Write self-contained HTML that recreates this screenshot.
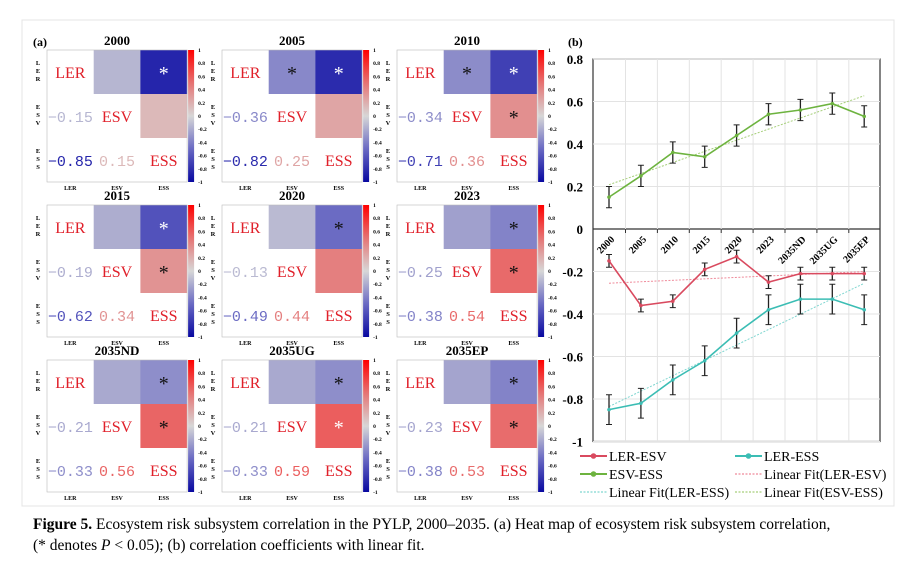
<!DOCTYPE html>
<html><head><meta charset="utf-8"><style>
html,body{margin:0;padding:0;background:#fff;}
svg{display:block;font-family:"Liberation Serif",serif;}
</style></head><body>
<svg id="fig" width="915" height="578" viewBox="0 0 915 578" xmlns="http://www.w3.org/2000/svg">
<rect x="22" y="20" width="872" height="486" fill="none" stroke="#e4e4e4"/>
<text x="33" y="46" font-size="12" font-weight="bold">(a)</text>
<text x="568" y="46" font-size="12" font-weight="bold">(b)</text>
<g id="heat"></g>
<g id="line"></g>
<text x="33" y="529" font-size="15.5"><tspan font-weight="bold">Figure 5.</tspan> Ecosystem risk subsystem correlation in the PYLP, 2000–2035. (a) Heat map of ecosystem risk subsystem correlation,</text>
<text x="33" y="550" font-size="15.5">(* denotes <tspan font-style="italic">P</tspan> &lt; 0.05); (b) correlation coefficients with linear fit.</text>
</svg>
<script>
const NS="http://www.w3.org/2000/svg";
function mk(tag,attrs,parent,txt){const e=document.createElementNS(NS,tag);for(const k in attrs)e.setAttribute(k,attrs[k]);if(txt!==undefined)e.textContent=txt;parent.appendChild(e);return e;}

// ---- heatmap data ----
const years=["2000","2005","2010","2015","2020","2023","2035ND","2035UG","2035EP"];
const lerEsv=[-0.15,-0.36,-0.34,-0.19,-0.13,-0.25,-0.21,-0.21,-0.23];
const lerEss=[-0.85,-0.82,-0.71,-0.62,-0.49,-0.38,-0.33,-0.33,-0.38];
const esvEss=[0.15,0.25,0.36,0.34,0.44,0.54,0.56,0.59,0.53];
const starLerEsv=[false,true,true,false,false,false,false,false,false];
const starLerEss=[true,true,true,true,true,true,true,true,true];
const starEsvEss=[false,false,true,true,false,true,true,true,true];
const vars=["LER","ESV","ESS"];

// ---- line chart data ----
const cats=["2000","2005","2010","2015","2020","2023","2035ND","2035UG","2035EP"];
const sLerEsv=[-0.15,-0.36,-0.34,-0.19,-0.13,-0.25,-0.21,-0.21,-0.21];
const sLerEss=[-0.85,-0.82,-0.71,-0.62,-0.49,-0.38,-0.33,-0.33,-0.38];
const sEsvEss=[0.15,0.25,0.36,0.34,0.44,0.54,0.56,0.59,0.53];
const eLerEsv=[0.03,0.03,0.03,0.03,0.03,0.03,0.03,0.03,0.03];
const eLerEss=[0.07,0.07,0.07,0.07,0.07,0.07,0.07,0.07,0.07];
const eEsvEss=[0.05,0.05,0.05,0.05,0.05,0.05,0.05,0.05,0.05];
const yTicks=[0.8,0.6,0.4,0.2,0,-0.2,-0.4,-0.6,-0.8,-1];
const yTickLabels=["0.8","0.6","0.4","0.2","0","-0.2","-0.4","-0.6","-0.8","-1"];
const cbTicks=[1,0.8,0.6,0.4,0.2,0,-0.2,-0.4,-0.6,-0.8,-1];

function cmap(v){
  const stops=[[-1,[8,8,160]],[-0.5,[105,105,195]],[0,[215,215,215]],[0.5,[230,115,115]],[1,[255,0,0]]];
  for(let i=0;i<stops.length-1;i++){const [a,ca]=stops[i],[b,cb]=stops[i+1];
    if(v<=b){const t=(v-a)/(b-a);return "rgb("+ca.map((c,j)=>Math.round(c+(cb[j]-c)*t)).join(",")+")";}}
  return "rgb(255,0,0)";
}
function fmt(v){return (v<0?"−":"")+Math.abs(v).toFixed(2).replace(/^0/,"0");}

const H=document.getElementById("heat");
const cw=46.7,ch=44;
let gid=0;
years.forEach((yr,i)=>{
  const col=i%3,row=Math.floor(i/3);
  const x0=47+col*175,y0=50+row*155;
  const g=mk("g",{},H);
  
  
  const t=mk("text",{x:x0+70,y:y0-5,"text-anchor":"middle","font-size":13,"font-weight":"bold"},g,yr);
  
  
  const M=[[1,lerEsv[i],lerEss[i]],[lerEsv[i],1,esvEss[i]],[lerEss[i],esvEss[i],1]];
  const S=[[false,starLerEsv[i],starLerEss[i]],[false,false,starEsvEss[i]],[false,false,false]];
  for(let r=0;r<3;r++)for(let c=0;c<3;c++){
    const cx=x0+c*cw,cy=y0+r*ch;
    const cell=mk("rect",{x:cx,y:cy,width:cw+0.3,height:ch+0.3,fill:c>r?cmap(M[r][c]):"#fff"},g);
    
    
    let txt=null;
    if(r===c){txt=mk("text",{x:cx+cw/2,y:cy+ch/2+6,"text-anchor":"middle","font-size":16,fill:"#e0202a"},g,vars[r]);}
    else if(c<r){txt=mk("text",{x:cx+cw/2,y:cy+ch/2+6,"text-anchor":"middle","font-size":15,fill:cmap(M[r][c]),"font-family":"Liberation Mono, monospace"},g,fmt(M[r][c]));}
    else if(S[r][c]){const dark=M[r][c]<-0.6||(M[r][c]>0.58);
      txt=mk("text",{x:cx+cw/2,y:cy+ch/2+8,"text-anchor":"middle","font-size":20,fill:dark?"#fff":"#111"},g,"*");}
    if(txt){}
  }
  mk("rect",{x:x0,y:y0,width:cw*3,height:ch*3,fill:"none",stroke:"#bbb","stroke-width":0.6},g);
  // row labels
  for(let r=0;r<3;r++){for(let k=0;k<3;k++){const l=mk("text",{x:x0-9,y:y0+r*ch+ch/2-7+k*8,"text-anchor":"middle","font-size":6.5,"font-weight":"bold"},g,vars[r][k]);
    }
    const cl=mk("text",{x:x0+r*cw+cw/2,y:y0+3*ch+8,"text-anchor":"middle","font-size":6,"font-weight":"bold"},g,vars[r]);
    }
  // colorbar
  const gid2="cb"+(gid++);
  const defs=mk("defs",{},g);const lg=mk("linearGradient",{id:gid2,x1:0,y1:0,x2:0,y2:1},defs);
  [1,0.5,0,-0.5,-1].forEach(v=>mk("stop",{offset:((1-v)/2*100)+"%","stop-color":cmap(v)},lg));
  const cb=mk("rect",{x:x0+3*cw+1,y:y0,width:6,height:ch*3,fill:"url(#"+gid2+")"},g);
  
  cbTicks.forEach(v=>{const ty=y0+(1-v)/2*ch*3;
    const tl=mk("text",{x:x0+3*cw+11,y:ty+2,"font-size":5.5,"font-weight":"bold"},g,String(v));
    });
});

// ---- line chart ----
const L=document.getElementById("line");
const px0=593,px1=880,pyTop=59;
const yS=v=>229-v*212.5;
const xS=i=>609+i*31.9;
mk("rect",{x:px0,y:pyTop,width:px1-px0,height:yS(-1)-pyTop,fill:"#fff",stroke:"#333","stroke-width":1.2},L);
yTicks.forEach((v,k)=>{
  mk("line",{x1:px0,x2:px1,y1:yS(v),y2:yS(v),stroke:v===0?"#333":"#e3e3e3","stroke-width":v===0?1.2:1},L);
  const t=mk("text",{x:px0-10,y:yS(v)+5,"text-anchor":"end","font-size":13,"font-weight":"bold"},L,yTickLabels[k]);
  
});
cats.forEach((c,i)=>{
  const gx=xS(i)+16.5;
  if(i<cats.length-1)mk("line",{x1:gx,x2:gx,y1:pyTop,y2:yS(-1),stroke:"#e3e3e3"},L);
  if(i<cats.length-1)mk("line",{x1:gx,x2:gx,y1:229,y2:233,stroke:"#333"},L);
  const t=mk("text",{x:xS(i)+6,y:240,"text-anchor":"end","font-size":10,"font-weight":"bold",transform:"rotate(-45 "+(xS(i)+6)+" 240)"},L,c);
  
});
function fit(vals){const n=vals.length;let sx=0,sy=0,sxy=0,sxx=0;vals.forEach((v,i)=>{sx+=i;sy+=v;sxy+=i*v;sxx+=i*i;});
  const b=(n*sxy-sx*sy)/(n*sxx-sx*sx);const a=(sy-b*sx)/n;return [a,a+b*(n-1)];}
function series(vals,errs,color,fitColor,name){
  const g=mk("g",{},L);
  
  
  const f=fit(vals);
  const fl=mk("line",{x1:xS(0),y1:yS(f[0]),x2:xS(vals.length-1),y2:yS(f[1]),stroke:fitColor,"stroke-width":1,"stroke-dasharray":"2,1.5"},g);
  
  vals.forEach((v,i)=>{const x=xS(i);
    mk("line",{x1:x,x2:x,y1:yS(v+errs[i]),y2:yS(v-errs[i]),stroke:"#222","stroke-width":1.3},g);
    mk("line",{x1:x-3,x2:x+3,y1:yS(v+errs[i]),y2:yS(v+errs[i]),stroke:"#222","stroke-width":1},g);
    mk("line",{x1:x-3,x2:x+3,y1:yS(v-errs[i]),y2:yS(v-errs[i]),stroke:"#222","stroke-width":1},g);});
  const pl=mk("polyline",{points:vals.map((v,i)=>xS(i)+","+yS(v)).join(" "),fill:"none",stroke:color,"stroke-width":1.6},g);
  
  vals.forEach((v,i)=>{const p=mk("circle",{cx:xS(i),cy:yS(v),r:1.8,fill:color},g);
    });
}
series(sEsvEss,eEsvEss,"#6db33f","#a6cf7a","esv-ess");
series(sLerEsv,eLerEsv,"#d94a5f","#ef8a9a","ler-esv");
series(sLerEss,eLerEss,"#3bbdb4","#7fd6d0","ler-ess");
// legend
const legend=[["LER-ESV","#d94a5f",false,580,456],["LER-ESS","#3bbdb4",false,735,456],["ESV-ESS","#6db33f",false,580,474],
 ["Linear Fit(LER-ESV)","#ef8a9a",true,735,474],["Linear Fit(LER-ESS)","#7fd6d0",true,580,492],["Linear Fit(ESV-ESS)","#a6cf7a",true,735,492]];
legend.forEach(([t,c,d,x,y])=>{
  const g=mk("g",{},L);
  
  
  mk("line",{x1:x,x2:x+27,y1:y,y2:y,stroke:c,"stroke-width":d?1.2:2,"stroke-dasharray":d?"2,1.5":"none"},g);
  if(!d)mk("circle",{cx:x+13.5,cy:y,r:2.8,fill:c},g);
  mk("text",{x:x+29,y:y+5,"font-size":14},g,t);
});
</script>
</body></html>
